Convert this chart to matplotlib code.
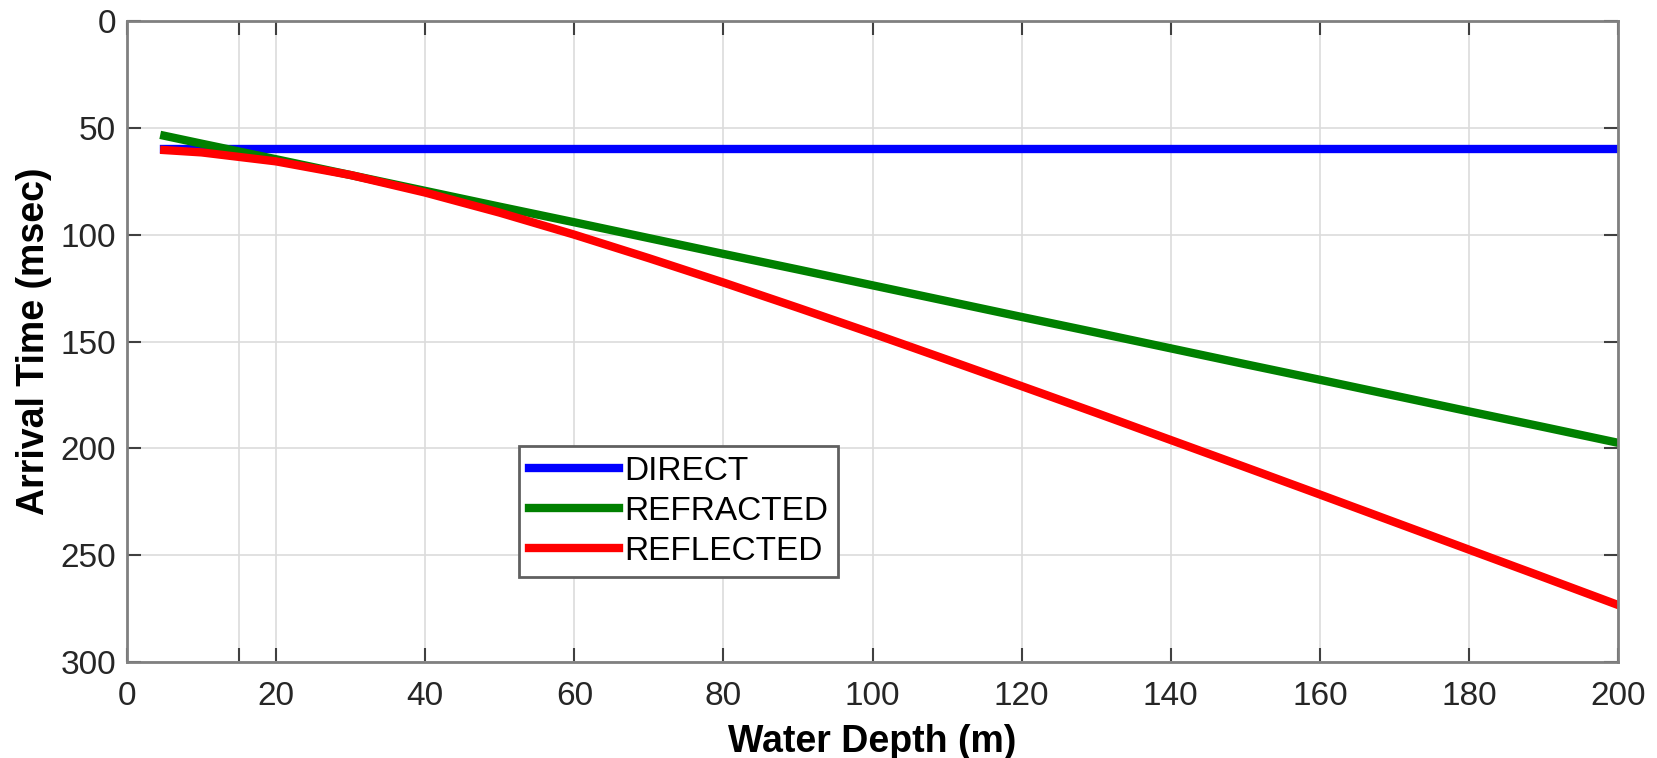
import numpy as np
import matplotlib.pyplot as plt

plt.rcParams['font.family'] = ['Liberation Sans', 'DejaVu Sans']

# water depth (m) and arrival times (msec)
depth = [5, 10, 20, 30, 40, 50, 60, 70, 80, 90, 100, 110, 120, 130, 140, 150, 160, 170, 180, 190, 200]
t_direct = [60, 60, 60, 60, 60, 60, 60, 60, 60, 60, 60, 60, 60, 60, 60, 60, 60, 60, 60, 60, 60]
t_refracted = [53.7, 57.4, 64.7, 72.1, 79.5, 86.9, 94.2, 101.6, 109.0, 116.3, 123.7,
               131.1, 138.5, 145.8, 153.2, 160.6, 167.9, 175.3, 182.7, 190.0, 197.4]
t_reflected = [60.4, 61.5, 65.7, 72.1, 80.3, 89.7, 100.0, 111.0, 122.4, 134.2, 146.2,
               158.5, 170.9, 183.4, 196.1, 208.8, 221.6, 234.5, 247.4, 260.3, 273.3]

xticks = [0, 15, 20, 40, 60, 80, 100, 120, 140, 160, 180, 200]
xticklabels = ['0', '', '20', '40', '60', '80', '100', '120', '140', '160', '180', '200']
yticks = [0, 50, 100, 150, 200, 250, 300]

fig = plt.figure(figsize=(16.58, 7.58), dpi=100)
ax = fig.add_axes([0.0766, 0.1266, 0.8993, 0.8457])

ax.plot(depth, t_direct, color='#0000ff', lw=6, label='DIRECT')
ax.plot(depth, t_refracted, color='#008000', lw=6, label='REFRACTED')
ax.plot(depth, t_reflected, color='#ff0000', lw=6, label='REFLECTED')

ax.set_xlim(0, 200)
ax.set_ylim(300, 0)
ax.set_xticks(xticks)
ax.set_xticklabels(xticklabels)
ax.set_yticks(yticks)
ax.grid(True, color='#dcdcdc', lw=1.2)
ax.set_axisbelow(True)
ax.tick_params(direction='in', length=10, width=1.5, color='#404040', labelsize=24,
               labelcolor='#262626', top=True, right=True)
ax.tick_params(axis='x', pad=14)
ax.tick_params(axis='y', pad=8)
for s in ax.spines.values():
    s.set_color('#808080')
    s.set_linewidth(2)

ax.set_xlabel('Water Depth (m)', fontsize=27, fontweight='bold', labelpad=8)
ax.set_ylabel('Arrival Time (msec)', fontsize=27, fontweight='bold', labelpad=6)

leg = ax.legend(loc='lower left', bbox_to_anchor=(0.263, 0.1326), fontsize=24,
                fancybox=False, framealpha=1, edgecolor='#606060',
                handlelength=2.7, handletextpad=0.15, borderpad=0.3, labelspacing=0.27,
                borderaxespad=0)
leg.get_frame().set_linewidth(2)

fig.savefig('out.png', dpi=100)
